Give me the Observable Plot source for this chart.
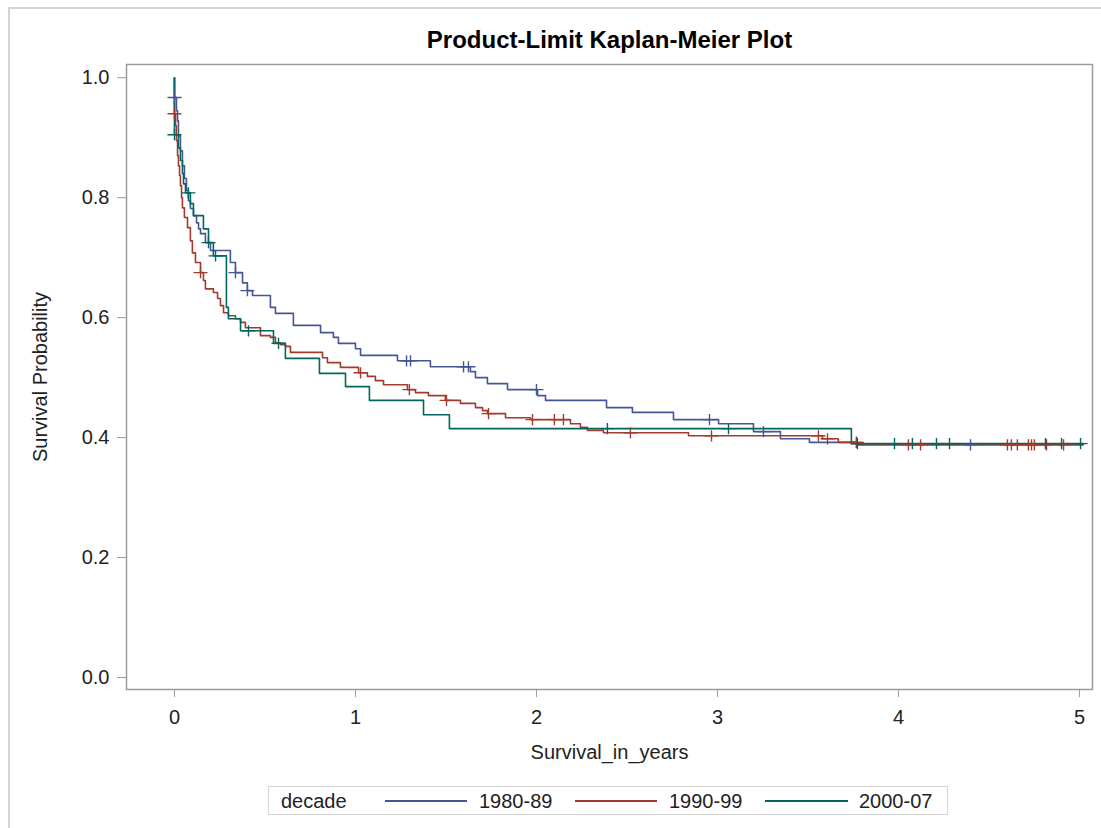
<!DOCTYPE html>
<html>
<head>
<meta charset="utf-8">
<script src="https://cdn.jsdelivr.net/npm/d3@7"></script>
<script src="https://cdn.jsdelivr.net/npm/@observablehq/plot@0.6"></script>
<style>
  body { margin: 0; background: #fff; width: 1101px; height: 828px; overflow: hidden; position: relative;
         font-family: "Liberation Sans", Arial, sans-serif; color: #222; }
  #page { position: absolute; left: 8px; top: 7px; right: -4px; bottom: -4px;
          border-left: 2px solid #d4d4d4; border-top: 2px solid #d4d4d4; }
  #chart { position: absolute; left: 0; top: 0; }
  #legend { position: absolute; left: 268px; top: 786px; width: 680px; height: 29px;
            border: 1px solid #d4d4d4; box-sizing: border-box; font-size: 20px; }
  #legend span { position: absolute; top: 50%; transform: translateY(-50%); white-space: nowrap; line-height: 1; }
  #legend .swatch { position: absolute; top: 13px; height: 2px; }
</style>
</head>
<body>
<div id="page"></div>
<div id="chart"></div>
<div id="legend"></div>
<script>
// Groups and their colours
const decades = ["1980-89", "1990-99", "2000-07"];
const colors = ["#445694", "#A23A2E", "#01665E"];

// Event times (years) and Kaplan-Meier survival right after each drop
const t1980 = [0, 0.011, 0.017, 0.022, 0.033, 0.044, 0.055, 0.066, 0.077, 0.088, 0.105, 0.122, 0.133, 0.144, 0.171, 0.199, 0.309, 0.337, 0.376, 0.403, 0.431, 0.530, 0.558, 0.657, 0.807, 0.878, 0.906, 1.000, 1.028, 1.232, 1.414, 1.635, 1.663, 1.729, 1.840, 2.006, 2.050, 2.387, 2.530, 2.757, 3.006, 3.199, 3.348, 3.508, 3.773];
const s1980 = [0.967, 0.945, 0.928, 0.903, 0.878, 0.853, 0.832, 0.812, 0.795, 0.782, 0.770, 0.758, 0.748, 0.740, 0.725, 0.712, 0.692, 0.675, 0.658, 0.645, 0.637, 0.617, 0.607, 0.587, 0.575, 0.567, 0.557, 0.548, 0.537, 0.528, 0.518, 0.510, 0.500, 0.490, 0.480, 0.470, 0.462, 0.450, 0.442, 0.430, 0.423, 0.410, 0.398, 0.392, 0.388];

const t1990 = [0, 0.006, 0.011, 0.017, 0.022, 0.028, 0.033, 0.039, 0.044, 0.055, 0.072, 0.088, 0.099, 0.116, 0.144, 0.160, 0.171, 0.215, 0.238, 0.254, 0.271, 0.298, 0.337, 0.365, 0.392, 0.475, 0.530, 0.558, 0.586, 0.613, 0.641, 0.818, 0.845, 0.917, 1.017, 1.066, 1.110, 1.155, 1.287, 1.331, 1.403, 1.497, 1.580, 1.663, 1.702, 1.729, 1.829, 1.967, 2.188, 2.243, 2.282, 2.370, 2.840, 3.580, 3.668, 3.773];
const s1990 = [0.940, 0.920, 0.895, 0.870, 0.853, 0.837, 0.820, 0.800, 0.783, 0.767, 0.750, 0.728, 0.708, 0.692, 0.675, 0.662, 0.648, 0.642, 0.632, 0.620, 0.608, 0.603, 0.598, 0.592, 0.583, 0.570, 0.567, 0.558, 0.555, 0.552, 0.542, 0.533, 0.525, 0.517, 0.508, 0.502, 0.495, 0.488, 0.480, 0.475, 0.470, 0.462, 0.457, 0.450, 0.445, 0.440, 0.433, 0.430, 0.423, 0.417, 0.412, 0.408, 0.403, 0.398, 0.392, 0.388];

const t2000 = [0, 0.022, 0.033, 0.044, 0.050, 0.061, 0.088, 0.105, 0.160, 0.188, 0.215, 0.287, 0.298, 0.365, 0.547, 0.613, 0.801, 0.945, 1.077, 1.376, 1.519, 3.740];
const s2000 = [0.905, 0.883, 0.862, 0.840, 0.823, 0.808, 0.790, 0.770, 0.748, 0.725, 0.703, 0.617, 0.598, 0.578, 0.557, 0.532, 0.507, 0.485, 0.462, 0.438, 0.415, 0.390];

// Censored observation times (years)
const c1980 = [0, 0.337, 0.403, 1.282, 1.304, 1.597, 1.624, 2.000, 2.956, 3.254, 3.768, 4.398];
const c1990 = [0, 0.144, 1.028, 1.298, 1.503, 1.735, 1.978, 2.099, 2.149, 2.519, 2.967, 3.558, 3.608, 3.768, 4.055, 4.122, 4.602, 4.624, 4.657, 4.718, 4.735, 4.751, 4.818, 4.912];
const c2000 = [0, 0.077, 0.188, 0.227, 0.409, 0.575, 2.392, 3.061, 3.773, 3.978, 4.077, 4.210, 4.282, 4.812, 4.901, 5.006];

// Last follow-up time shown
const tEnd = 5.02;

const xTicks = [0, 1, 2, 3, 4, 5];
const yTicks = [0, 0.2, 0.4, 0.6, 0.8, 1.0];
const title = "Product-Limit Kaplan-Meier Plot";
const xLabel = "Survival_in_years";
const yLabel = "Survival Probability";
const legendTitle = "decade";

const series = [
  {decade: decades[0], t: t1980, s: s1980, c: c1980},
  {decade: decades[1], t: t1990, s: s1990, c: c1990},
  {decade: decades[2], t: t2000, s: s2000, c: c2000}
];

// Survival value of a step function at time x
function survivalAt(g, x) {
  let v = 1;
  for (let i = 0; i < g.t.length; i++) if (g.t[i] <= x) v = g.s[i];
  return v;
}

const lineData = series.flatMap(g => [
  {decade: g.decade, t: 0, s: 1},
  ...g.t.map((t, i) => ({decade: g.decade, t, s: g.s[i]})),
  {decade: g.decade, t: tEnd, s: g.s[g.s.length - 1]}
]);

const censorData = series.flatMap(g => g.c.map(t => ({decade: g.decade, t, s: survivalAt(g, t)})));

// "+" marker used for censored observations
const censorMark = {
  draw(context, size) {
    const r = Math.sqrt(size / Math.PI);
    context.moveTo(-r, 0); context.lineTo(r, 0);
    context.moveTo(0, -r * 0.8); context.lineTo(0, r * 0.8);
  }
};

const chart = Plot.plot({
  width: 1101,
  height: 780,
  marginLeft: 126,
  marginRight: 9,
  marginTop: 64,
  marginBottom: 91,
  style: {fontFamily: "'Liberation Sans', Arial, sans-serif", fontSize: "20px", color: "#222", background: "transparent", overflow: "visible"},
  x: {domain: [-0.265, 5.072]},
  y: {domain: [-0.02, 1.022]},
  color: {domain: decades, range: colors},
  marks: [
    Plot.frame({stroke: "#9a9a9a", strokeWidth: 1.5}),
    Plot.axisX({ticks: xTicks, tickSize: 8, tickPadding: 12, stroke: "#9a9a9a", label: null, tickFormat: d3.format("d")}),
    Plot.axisY({ticks: yTicks, tickSize: 9, tickPadding: 8, stroke: "#9a9a9a", label: null, tickFormat: d3.format(".1f")}),
    Plot.line(lineData, {x: "t", y: "s", z: "decade", stroke: "decade", curve: "step-after", strokeWidth: 1.6}),
    Plot.dot(censorData, {x: "t", y: "s", stroke: "decade", fill: "none", symbol: censorMark, r: 7, strokeWidth: 1.4}),
    Plot.text([title], {frameAnchor: "top", dy: -24, lineAnchor: "middle", fontSize: 24, fontWeight: "bold", fill: "#000"}),
    Plot.text([xLabel], {frameAnchor: "bottom", dy: 63, lineAnchor: "middle", fontSize: 20}),
    Plot.text([yLabel], {frameAnchor: "left", dx: -86, textAnchor: "middle", lineAnchor: "middle", rotate: -90, fontSize: 20})
  ]
});
document.getElementById("chart").appendChild(chart);

// Legend: group title followed by a line swatch and label per decade
const legend = document.getElementById("legend");
const legendPos = [[116, 198, 210], [306, 388, 400], [496, 579, 590]];
const head = document.createElement("span");
head.textContent = legendTitle;
head.style.left = "12px";
legend.appendChild(head);
decades.forEach((d, i) => {
  const [x0, x1, xt] = legendPos[i];
  const sw = document.createElement("div");
  sw.className = "swatch";
  sw.style.left = x0 + "px";
  sw.style.width = (x1 - x0) + "px";
  sw.style.background = colors[i];
  legend.appendChild(sw);
  const lab = document.createElement("span");
  lab.textContent = d;
  lab.style.left = xt + "px";
  legend.appendChild(lab);
});
</script>
</body>
</html>
